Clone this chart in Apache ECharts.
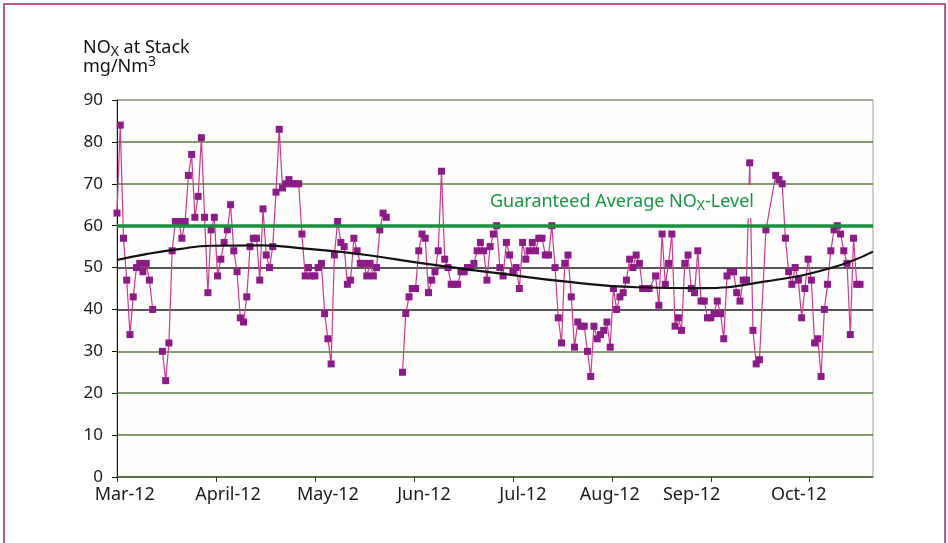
<!DOCTYPE html>
<html>
<head>
<meta charset="utf-8">
<script src="https://cdn.jsdelivr.net/npm/echarts@6/dist/echarts.min.js"></script>
<style>
  html, body { margin: 0; padding: 0; background: #fff; }
  #chart { width: 948px; height: 543px; }
</style>
</head>
<body>
<div id="chart"></div>
<script>
// x axis: days since 1 March 2012
var monthLabels = ['Mar-12', 'April-12', 'May-12', 'Jun-12', 'Jul-12', 'Aug-12', 'Sep-12', 'Oct-12'];
var monthTickDays = [0, 30.5, 61, 91.5, 122, 152.5, 183, 213.5];
var monthLabelDays = [2.4, 34.2, 65, 94.6, 125.1, 151.9, 177.1, 210.1];

// daily NOx readings (null = no measurement)
var days = [
  0, 1, 2, 3, 4, 5, 6, 7, 8, 9, 10, 11, 12,
  14, 15, 16, 17, 18, 19, 20, 21, 22, 23, 24, 25, 26, 27, 28, 29, 30, 31, 32, 33,
  34, 35, 36, 37, 38, 39, 40, 41, 42, 43, 44, 45, 46, 47, 48, 49, 50, 51, 52, 53,
  54, 55, 56, 57, 58, 59, 60, 61, 62, 63, 64, 65, 66, 67, 68, 69, 70, 71, 72, 73,
  74, 75, 76, 77, 78, 79, 80, 81, 82, 83,
  85,
  88, 89, 90, 91, 92, 93, 94, 95, 96, 97, 98, 99, 100, 101, 102, 103, 104, 105, 106, 107,
  108, 109, 110, 111, 112, 113, 114, 115, 116, 117, 118, 119, 120, 121, 122, 123, 124, 125, 126, 127,
  128, 129, 130, 131, 132, 133, 134, 135, 136, 137, 138, 139, 140, 141, 142, 143, 144, 145, 146, 147,
  148, 149, 150, 151, 152, 153, 154, 155, 156, 157, 158, 159, 160, 161, 162, 163, 164,
  166, 167, 168, 169, 170, 171, 172, 173, 174, 175, 176, 177, 178, 179, 180, 181, 182, 183, 184, 185,
  186, 187, 188, 189, 190, 191, 192, 193, 194, 195, 196, 197, 198,
  200,
  203, 204, 205, 206, 207, 208, 209, 210, 211, 212, 213, 214, 215, 216, 217, 218, 219, 220, 221, 222,
  223, 224, 225, 226, 227, 228, 229
];
var nox = [
  63, 84, 57, 47, 34, 43, 50, 51, 49, 51, 47, 40, null,
  30, 23, 32, 54, 61, 61, 57, 61, 72, 77, 62, 67, 81, 62, 44, 59, 62, 48, 52, 56,
  59, 65, 54, 49, 38, 37, 43, 55, 57, 57, 47, 64, 53, 50, 55, 68, 83, 69, 70, 71,
  70, 70, 70, 58, 48, 50, 48, 48, 50, 51, 39, 33, 27, 53, 61, 56, 55, 46, 47, 57,
  54, 51, 51, 48, 51, 48, 50, 59, 63, 62,
  null,
  25, 39, 43, 45, 45, 54, 58, 57, 44, 47, 49, 54, 73, 52, 50, 46, 46, 46, 49, 49,
  50, 50, 51, 54, 56, 54, 47, 55, 58, 60, 50, 48, 56, 53, 49, 50, 45, 56, 52, 54,
  56, 54, 57, 57, 53, 53, 60, 50, 38, 32, 51, 53, 43, 31, 37, 36, 36, 30, 24, 36,
  33, 34, 35, 37, 31, 45, 40, 43, 44, 47, 52, 50, 53, 51, 45, 45, 45,
  48, 41, 58, 46, 51, 58, 36, 38, 35, 51, 53, 45, 44, 54, 42, 42, 38, 38, 39, 42,
  39, 33, 48, 49, 49, 44, 42, 47, 47, 75, 35, 27, 28,
  59,
  72, 71, 70, 57, 49, 46, 50, 47, 38, 45, 52, 47, 32, 33, 24, 40, 46, 54, 59, 60,
  58, 54, 51, 34, 57, 46, 46
];

// black trend curve
var trendDays = [0, 9, 19, 29, 45, 58, 68, 77, 96, 116, 140, 160, 180, 200, 220, 233];
var trendNox = [51.8, 53.2, 54.4, 55.2, 55.3, 54.5, 53.8, 53.0, 50.8, 48.8, 46.5, 45.3, 45.1, 46.7, 49.9, 53.8];

var guaranteedLevel = 60;
var yTicks = [0, 10, 20, 30, 40, 50, 60, 70, 80, 90];

var FONT = 'Noto Sans';
var GRID_GREEN = '#5a7a3e';

var chart = echarts.init(document.getElementById('chart'), null, { renderer: 'canvas' });

var dailyData = days.map(function (d, i) {
  return [d, nox[i] === null ? '-' : nox[i]];
});
var trendData = trendDays.map(function (d, i) { return [d, trendNox[i]]; });

var option = {
  animation: false,
  backgroundColor: '#fff',
  textStyle: { fontFamily: FONT },
  grid: {
    left: 117, top: 100, right: 75, bottom: 66,
    show: true,
    backgroundColor: '#fefefd',
    borderColor: '#9aa28e',
    borderWidth: 1
  },
  xAxis: {
    type: 'value',
    min: 0,
    max: 233,
    axisLine: { lineStyle: { color: '#4d6a3a', width: 1.5 } },
    axisTick: {
      customValues: monthTickDays,
      length: 5,
      lineStyle: { color: '#333' }
    },
    axisLabel: {
      customValues: monthLabelDays,
      formatter: function (v) {
        var i = monthLabelDays.indexOf(v);
        return i >= 0 ? monthLabels[i] : '';
      },
      margin: 9,
      fontSize: 18,
      color: '#1a1a1a',
      fontFamily: FONT
    },
    splitLine: { show: false }
  },
  yAxis: {
    type: 'value',
    min: 0,
    max: 90,
    interval: 10,
    axisLine: { show: true, lineStyle: { color: '#111', width: 1 } },
    axisTick: { show: true, length: 5, lineStyle: { color: '#111' } },
    axisLabel: {
      margin: 14,
      fontSize: 17,
      color: '#1a1a1a',
      fontFamily: FONT,
      formatter: function (v) { return yTicks.indexOf(v) >= 0 ? String(v) : ''; }
    },
    splitLine: {
      show: true,
      lineStyle: {
        width: 1.5,
        color: [GRID_GREEN, GRID_GREEN, GRID_GREEN, GRID_GREEN, '#1e1e1e', '#1e1e1e',
                GRID_GREEN, GRID_GREEN, GRID_GREEN, '#9aa28e']
      }
    }
  },
  series: [
    {
      name: 'NOx',
      type: 'line',
      z: 2,
      data: dailyData,
      connectNulls: false,
      symbol: 'rect',
      symbolSize: 7,
      showSymbol: true,
      showAllSymbol: true,
      lineStyle: { color: '#d4358f', width: 1.2 },
      itemStyle: { color: '#8c1a88' }
    },
    {
      name: 'Trend',
      type: 'line',
      z: 3,
      data: trendData,
      smooth: 0.5,
      symbol: 'none',
      lineStyle: { color: '#111', width: 2.2 },
      markLine: {
        silent: true,
        symbol: 'none',
        label: { show: false },
        lineStyle: { color: '#17923a', width: 3.5, type: 'solid' },
        data: [{ yAxis: guaranteedLevel }]
      }
    }
  ],
  graphic: [
    {
      type: 'rect',
      z: 0,
      shape: { x: 4, y: 4, width: 941, height: 600 },
      style: { fill: null, stroke: '#b2225e', lineWidth: 1.5 }
    },
    {
      type: 'text',
      left: 83,
      top: 36,
      z: 10,
      style: {
        text: '{t|NO}{sub|X}{t| at Stack}\n{t|mg/Nm}{sup|3}',
        fill: '#111',
        rich: {
          t: { fontSize: 18, fontFamily: FONT, fill: '#111', lineHeight: 19 },
          sub: { fontSize: 14, fontFamily: FONT, fill: '#111', padding: [9, 0, 0, 0], lineHeight: 19 },
          sup: { fontSize: 14, fontFamily: FONT, fill: '#111', padding: [0, 0, 8, 0], lineHeight: 19 }
        }
      }
    },
    {
      type: 'text',
      left: 482,
      top: 185,
      z: 10,
      style: {
        text: '{t|Guaranteed Average NO}{sub|X}{t|-Level}',
        backgroundColor: '#fff',
        padding: [5, 8, 5, 8],
        rich: {
          t: { fontSize: 18, fontFamily: FONT, fill: '#16973f', lineHeight: 23 },
          sub: { fontSize: 14, fontFamily: FONT, fill: '#16973f', padding: [9, 0, 0, 0], lineHeight: 23 }
        }
      }
    }
  ]
};

chart.setOption(option);
</script>
</body>
</html>
